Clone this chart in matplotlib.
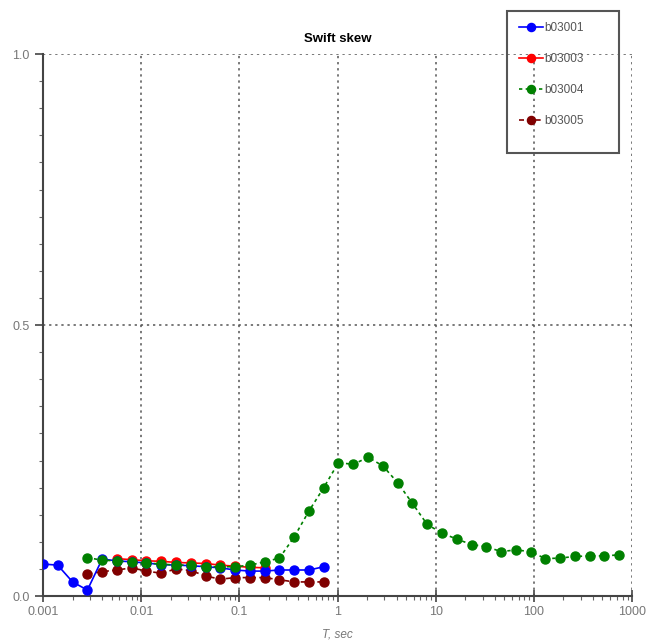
import matplotlib
matplotlib.use("Agg")
import matplotlib.pyplot as plt
from matplotlib.patches import Rectangle
from matplotlib.ticker import FixedLocator, FixedFormatter, MultipleLocator, LogLocator, NullFormatter

plt.rcParams["font.family"] = ["Liberation Sans", "DejaVu Sans"]

# period grid (sec), shared by all stations
periods = [0.001, 0.00141, 0.002, 0.00283, 0.004, 0.00566, 0.008, 0.0113, 0.016, 0.0226,
           0.032, 0.0453, 0.064, 0.0905, 0.128, 0.181, 0.256, 0.362, 0.512, 0.724,
           1.02, 1.45, 2.05, 2.9, 4.1, 5.79, 8.19, 11.6, 16.4, 23.2,
           32.8, 46.3, 65.5, 92.7, 131, 185, 262, 371, 524, 741]

b03001 = [0.059, 0.057, 0.026, 0.011, 0.068, 0.065, 0.063, 0.061, 0.058, 0.057,
          0.056, 0.054, 0.052, 0.048, 0.046, 0.046, 0.048, 0.048, 0.048, 0.054]
b03003 = [0.069, 0.067, 0.065, 0.064, 0.062, 0.061, 0.060, 0.057, 0.055, 0.053, 0.052]
b03004 = [0.071, 0.066, 0.065, 0.062, 0.061, 0.059, 0.057, 0.057, 0.054, 0.054,
          0.054, 0.057, 0.063, 0.070, 0.109, 0.157, 0.200, 0.246, 0.243, 0.256,
          0.240, 0.209, 0.171, 0.132, 0.116, 0.105, 0.095, 0.091, 0.082, 0.085,
          0.082, 0.069, 0.070, 0.073, 0.074, 0.074, 0.076]
b03005 = [0.041, 0.045, 0.048, 0.052, 0.046, 0.042, 0.050, 0.047, 0.037, 0.031,
          0.034, 0.034, 0.034, 0.030, 0.026, 0.026, 0.026]

x_ticks = [0.001, 0.01, 0.1, 1, 10, 100, 1000]
x_labels = ["0.001", "0.01", "0.1", "1", "10", "100", "1000"]
y_ticks = [0.0, 0.5, 1.0]
y_labels = ["0.0", "0.5", "1.0"]

fig = plt.figure(figsize=(6.46, 6.44), dpi=100)
ax = fig.add_axes([0.0666, 0.0745, 0.9118, 0.8416])

ms = 6.5
ax.plot(periods[:len(b03001)], b03001, color="#0000ff", lw=1.2, ls="-",
        marker="o", ms=ms, label="b03001", zorder=3)
ax.plot(periods[5:5 + len(b03003)], b03003, color="#ff0000", lw=1.2, ls="-",
        marker="o", ms=ms, label="b03003", zorder=2)
ax.plot(periods[3:3 + len(b03004)], b03004, color="#008000", lw=1.2, ls=(0, (2, 2)),
        marker="o", ms=ms, label="b03004", zorder=4)
ax.plot(periods[3:3 + len(b03005)], b03005, color="#800000", lw=1.2, ls=(0, (3, 2)),
        marker="o", ms=ms, label="b03005", zorder=2)

ax.set_xscale("log")
ax.set_xlim(0.001, 1000)
ax.set_ylim(0, 1)

ax.xaxis.set_major_locator(FixedLocator(x_ticks))
ax.xaxis.set_major_formatter(FixedFormatter(x_labels))
ax.xaxis.set_minor_locator(LogLocator(base=10, subs=range(2, 10)))
ax.xaxis.set_minor_formatter(NullFormatter())
ax.yaxis.set_major_locator(FixedLocator(y_ticks))
ax.yaxis.set_major_formatter(FixedFormatter(y_labels))
ax.yaxis.set_minor_locator(MultipleLocator(0.05))

ax.grid(True, which="major", color="#555555", ls=(0, (1.5, 2.5)), lw=1.1)
for s in ("top", "right"):
    ax.spines[s].set_visible(False)
for s in ("left", "bottom"):
    ax.spines[s].set_color("#444444")
    ax.spines[s].set_linewidth(1.5)

ax.tick_params(axis="x", which="major", direction="inout", length=8)
ax.tick_params(axis="y", which="major", direction="out", length=6)
ax.tick_params(which="major", width=1.2, colors="#444444", labelsize=9,
               labelcolor="#777777")
ax.tick_params(which="minor", direction="out", length=3, width=0.8, colors="#666666")

ax.set_title("Swift skew", fontsize=9.5, fontweight="bold", pad=9)
ax.set_xlabel("T, sec", fontsize=8.5, style="italic", color="#777777", labelpad=7)

# legend entries without frame, box drawn separately (wide right margin)
leg = fig.legend(loc="upper left", bbox_to_anchor=(0.795, 0.975), fontsize=8.5,
                 labelspacing=1.62, handlelength=2.0, handletextpad=0.1,
                 borderpad=0.0, frameon=False, markerscale=0.9)
for t in leg.get_texts():
    t.set_color("#555555")
fig.patches.append(Rectangle((507 / 646, 1 - 153 / 644), 112 / 646, 142 / 644,
                             transform=fig.transFigure, fill=False,
                             edgecolor="#555555", lw=1.5, zorder=5))

fig.savefig("out.png", dpi=100)
